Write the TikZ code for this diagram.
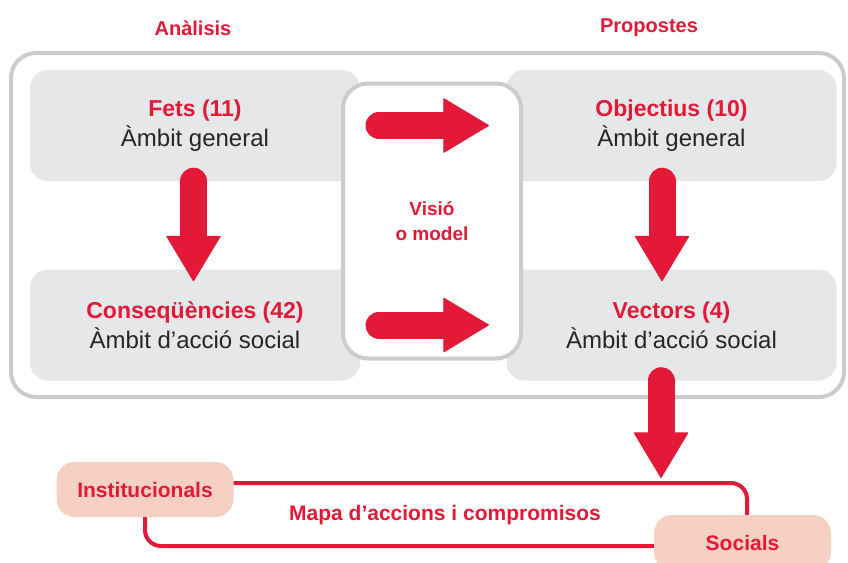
\documentclass[tikz,border=0pt]{standalone}
\usepackage{fontspec}
\setmainfont{Liberation Sans}
\usetikzlibrary{arrows.meta}
\definecolor{vermell}{HTML}{E31937}
\definecolor{grisfons}{HTML}{E6E7E8}
\definecolor{grisvora}{HTML}{CBCCCE}
\definecolor{rosa}{HTML}{F7D0C4}
\newcommand{\vtit}[1]{{\color{vermell}\bfseries\fontsize{23}{30}\selectfont #1}}

\begin{document}
\begin{tikzpicture}[x=1pt, y=-1pt,
  caixa/.style={fill=grisfons, rounded corners=18pt, minimum width=330pt, minimum height=111pt, align=center, text=black!85, font=\fontsize{24}{30}\selectfont},
  etiqueta/.style={fill=rosa, rounded corners=18pt, minimum width=177pt, minimum height=55pt, text=vermell, font=\fontsize{21}{25}\bfseries},
  titol/.style={text=vermell, font=\fontsize{20}{24}\bfseries},
  fletxa/.style={draw=vermell, line width=27pt, line cap=round, -{Triangle[width=55pt, length=46pt, line width=1pt, round]}},
  mapline/.style={draw=vermell, line width=4pt, rounded corners=16pt}]
		\useasboundingbox (0,0) rectangle (848,562);
		\node[titol] (analisi) at (193,28){Anàlisis};
		\node[titol] (propostes) at (649,28){Propostes};
		\draw[grisvora, line width=4pt, rounded corners=25pt] (11,53) rectangle (844,397);
		
		\node[caixa] (fets) at (195,125.5){\vtit{Fets (11)}\\Àmbit general};
		\node[caixa] (objectius) at (671.5,125.5){\vtit{Objectius (10)}\\Àmbit general};
		\node[caixa] (consequencies) at (195,325){\vtit{Conseqüències (42)}\\Àmbit d’acció social};
		\node[caixa] (vectors) at (671.5,325){\vtit{Vectors (4)}\\Àmbit d’acció social};
		\node[draw=grisvora, line width=4pt, fill=white, rounded corners=25pt, minimum width=178pt, minimum height=275pt, align=center, text=vermell, font=\fontsize{19}{25}\bfseries] (visio) at (432,221){Visió\\o model};
		
		\draw[fletxa] ([xshift=-1.5pt]fets.south) -- ([xshift=-1.5pt, yshift=-12pt]consequencies.north);
		\draw[fletxa] ([xshift=-9.5pt]objectius.south) -- ([xshift=-9.5pt, yshift=-12pt]vectors.north);
		\draw[fletxa] ([xshift=38pt]visio.west |- fets) -- ([xshift=-34pt]visio.east |- fets);
		\draw[fletxa] ([xshift=38pt]visio.west |- consequencies) -- ([xshift=-34pt]visio.east |- consequencies);
		
		\node[etiqueta] (inst) at (145,489.5){Institucionals};
		\node[etiqueta] (soc) at (742.5,542.5){Socials};
		\coordinate (dalt) at (747,483);
		\coordinate (baix) at (145,546);
		\draw[mapline] (inst.east |- dalt) -- (dalt) -- (dalt |- soc.north);
		\draw[mapline] (soc.west |- baix) -- (baix) -- (baix |- inst.south);
		\draw[fletxa] ([xshift=-10.5pt]vectors.south) -- ([xshift=-10.5pt]vectors.south |- 0,478);
		\node[text=vermell, font=\fontsize{21}{25}\bfseries] (mapa) at (445,515){Mapa d’accions i compromisos};
		\end{tikzpicture}
\end{document}
